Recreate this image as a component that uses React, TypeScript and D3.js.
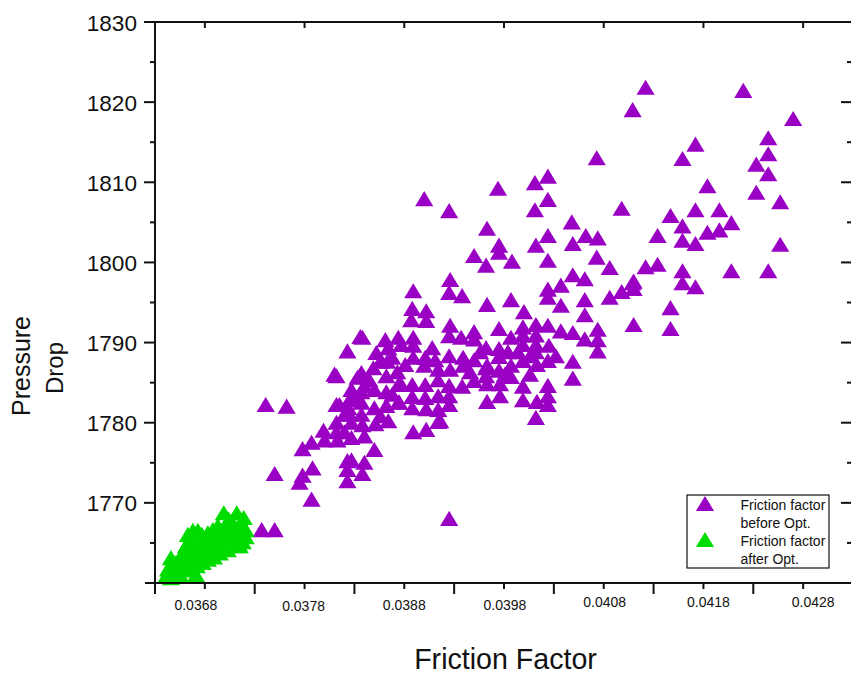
import React from "react";
import * as d3 from "d3";

const beforeFriction = [
  0.04122,0.0422,0.04109,0.0427,0.04245,0.04172,0.04245,0.04159,0.04073,0.04233,0.04245,0.04024,0.04011,0.04184,0.03974,0.04233,0.039,0.04024,0.04257,0.03925,
  0.04011,0.04098,0.04172,0.04196,0.04147,0.04159,0.04048,0.04208,0.03963,0.04134,0.04024,0.04062,0.04074,0.04196,0.04184,0.04159,0.03975,0.03975,0.04049,0.04012,
  0.04172,0.04257,0.0395,0.03962,0.03988,0.04024,0.04073,0.04086,0.04122,0.04134,0.04208,0.04245,0.04159,0.04049,0.04061,0.04109,0.04159,0.04172,0.03926,0.03889,
  0.03925,0.03938,0.03963,0.03987,0.04,0.04024,0.04024,0.04037,0.04037,0.03888,0.03902,0.04086,0.04098,0.0411,0.0411,0.04061,0.04061,0.0411,0.04147,0.04147,
  0.03926,0.03925,0.03937,0.0395,0.0395,0.03975,0.03987,0.03999,0.03999,0.03999,0.04012,0.04024,0.04012,0.04012,0.04037,0.04049,0.04061,0.04074,0.04074,0.04074,
  0.04025,0.04012,0.04024,0.04013,0.04049,0.04049,0.03962,0.03975,0.03975,0.03999,0.03987,0.03925,0.03939,0.0395,0.03939,0.03962,0.03975,0.03962,0.03987,0.03926,
  0.0395,0.03938,0.03925,0.03925,0.03963,0.03976,0.03999,0.04024,0.04024,0.03999,0.04013,0.04024,0.03963,0.03976,0.04012,0.03925,0.03916,0.03925,0.03887,0.03902,
  0.03889,0.03877,0.03889,0.03889,0.03901,0.039,0.03914,0.03963,0.03914,0.03901,0.03888,0.03877,0.03914,0.03901,0.03888,0.03914,0.03902,0.03888,0.03875,0.03914,
  0.03889,0.03902,0.03864,0.03741,0.03762,0.03838,0.03836,0.03823,0.03861,0.03874,0.03852,0.03864,0.03863,0.03837,0.03849,0.03812,0.0381,0.03862,0.0384,0.0385,
  0.03874,0.03827,0.03825,0.03812,0.03815,0.03837,0.0385,0.03862,0.03874,0.03824,0.03812,0.03799,0.03827,0.03838,0.03851,0.038,0.03813,0.03827,0.03787,0.03778,
  0.0385,0.0384,0.03823,0.03788,0.03827,0.03823,0.03838,0.03778,0.03775,0.0375,0.03823,0.03787,0.03737,0.0375,0.03837,0.03862,0.03837,0.03825,0.03812,
  0.0382,0.03831,0.03845,0.03856,0.03868,0.0382,0.0384,0.03833,0.03856,0.03873,0.03881,0.03868,0.03981,0.04006,0.03994,0.04006,0.03956,0.04032,0.03984,0.03946,0.03911,0.03908,
];
const beforePressure = [
  1821.8,1821.4,1819.0,1817.9,1815.5,1814.7,1813.5,1812.9,1813.0,1812.2,1811.0,1810.7,1809.9,1809.5,1809.2,1808.7,1807.9,1807.8,1807.5,1806.4,
  1806.5,1806.7,1806.5,1806.5,1805.8,1804.5,1805.0,1804.9,1804.2,1803.3,1803.3,1803.3,1803.0,1804.0,1803.7,1802.7,1802.1,1801.2,1802.3,1802.1,
  1802.3,1802.2,1800.8,1799.6,1800.1,1800.2,1800.6,1799.3,1799.4,1799.7,1798.9,1798.9,1798.9,1798.4,1797.9,1797.4,1797.4,1796.9,1797.8,1796.4,
  1796.2,1795.8,1794.7,1795.3,1793.8,1796.6,1795.6,1797.1,1794.6,1794.2,1793.9,1795.6,1796.3,1797.6,1796.7,1795.3,1793.4,1792.2,1794.3,1791.7,
  1792.1,1790.8,1790.6,1791.3,1790.4,1791.7,1790.6,1791.9,1790.9,1789.7,1792.2,1792.1,1790.9,1789.7,1791.4,1791.2,1790.4,1791.6,1790.3,1788.9,
  1789.6,1788.8,1787.7,1787.2,1787.6,1785.5,1789.3,1789.2,1788.2,1787.7,1787.1,1788.3,1788.1,1787.8,1787.1,1786.8,1786.5,1785.8,1785.7,1786.6,
  1785.2,1784.5,1784.6,1783.3,1784.8,1784.8,1784.5,1784.6,1783.3,1782.8,1782.6,1782.2,1782.6,1783.3,1780.6,1782.2,1780.2,1768.0,1792.8,1792.7,
  1790.6,1789.7,1789.6,1788.1,1788.1,1787.1,1786.6,1787.1,1785.3,1784.7,1784.7,1784.7,1783.3,1783.1,1783.2,1781.6,1781.7,1781.8,1782.5,1780.1,
  1778.8,1779.1,1780.2,1782.2,1782.0,1790.6,1790.7,1788.9,1790.3,1790.6,1788.7,1789.3,1787.6,1786.2,1786.8,1785.8,1786.0,1785.8,1784.6,1784.1,
  1784.7,1784.1,1782.8,1782.2,1782.2,1782.5,1781.8,1782.1,1782.5,1781.8,1780.0,1779.0,1780.0,1779.7,1779.8,1777.8,1777.8,1778.1,1777.5,1776.7,
  1776.6,1775.0,1775.2,1774.3,1775.3,1774.1,1773.6,1773.4,1772.5,1773.6,1772.7,1770.4,1766.6,1766.6,1781.0,1783.8,1783.8,1781.0,1778.8,
  1781.0,1783.2,1785.3,1780.8,1783.5,1778.8,1778.3,1785.6,1787.6,1786.3,1787.2,1788.1,1786.0,1786.0,1788.8,1788.3,1788.8,1788.3,1788.8,1786.3,1787.8,1789.3,
];
const afterFriction = [
  0.03646,0.03643,0.03642,0.03646,0.03651,0.03653,0.03647,0.03655,0.03659,0.03661,0.03665,0.03668,0.03677,0.03683,0.03688,0.03693,0.03699,0.03704,0.03712,0.03719,
  0.03715,0.03721,0.03721,0.03718,0.03711,0.03703,0.03695,0.03689,0.03683,0.03678,0.03671,0.03665,0.03659,0.03655,0.03663,0.03667,0.03672,0.03678,0.03684,0.03691,
  0.03697,0.03703,0.03708,0.03713,0.03707,0.037,0.03693,0.03686,0.03679,0.03672,0.03667,0.03674,0.03681,0.03689,0.03695,0.03701,0.03707,0.0371,0.03716,0.03672,
  0.03665,0.03658,0.03651,0.03663,0.03673,0.0366,0.03645,0.03675,0.03715,
];
const afterPressure = [
  1763.1,1761.7,1761.0,1760.6,1761.4,1762.1,1762.2,1763.1,1763.9,1764.6,1765.4,1766.5,1766.0,1766.2,1766.6,1767.1,1768.7,1767.9,1768.7,1768.1,
  1767.2,1766.6,1765.7,1765.1,1764.6,1764.1,1763.7,1763.2,1762.9,1762.5,1761.0,1761.6,1761.6,1761.0,1762.9,1763.5,1764.1,1764.7,1765.0,1765.4,
  1766.0,1766.4,1766.9,1766.2,1765.4,1764.7,1764.4,1763.9,1763.6,1763.1,1764.4,1765.4,1765.6,1766.0,1766.6,1767.1,1767.6,1765.7,1765.9,1762.1,
  1762.5,1762.5,1762.5,1766.0,1766.5,1762.9,1761.6,1763.4,1764.6,
];
const xLabels = ["0.0368", "0.0378", "0.0388", "0.0398", "0.0408", "0.0418", "0.0428"];
const yLabels = [1770, 1780, 1790, 1800, 1810, 1820, 1830];
const legendLines = ["Friction factor", "before Opt.", "Friction factor", "after Opt."];

const W = 851, H = 678;
const FONT = "'Liberation Sans', Arial, sans-serif";
const PURPLE = "#9A00C4";
const GREEN = "#00DC00";
const AXIS = "#111";

const x = d3.scaleLinear().domain([0.0363, 0.0433]).range([155, 853]);
const y = d3.scaleLinear().domain([1760, 1830]).range([583, 22]);

const triangleShape = {
  draw(ctx: any, size: number) {
    const h = Math.sqrt(size);
    ctx.moveTo(0, -h * 0.55);
    ctx.lineTo(h * 0.62, h * 0.48);
    ctx.lineTo(-h * 0.62, h * 0.48);
    ctx.closePath();
  },
};
const marker = d3.symbol().type(triangleShape as any).size(215)() as string;

const labelDx = [-9, -1, 0, 1, 1, 5, 10];
const labelCy = [605, 606, 605, 605, 602, 602, 601.7];

export default function App() {
  const xMajor = d3.range(0, 7).map((i) => 0.0363 + i * 0.001);
  const xMinor = xLabels.map(Number);
  const yMinor = d3.range(1765, 1830, 10);
  return (
    <svg width={W} height={H} style={{ position: "absolute", left: 0, top: 0, background: "#fff" }} fontFamily={FONT}>
      {beforeFriction.map((f, i) => (
        <path key={i} d={marker} fill={PURPLE} transform={`translate(${x(f)},${y(beforePressure[i])})`} />
      ))}
      {afterFriction.map((f, i) => (
        <path key={i} d={marker} fill={GREEN} transform={`translate(${x(f)},${y(afterPressure[i])})`} />
      ))}

      <g stroke={AXIS} strokeWidth={2} fill="none">
        <line x1={145} x2={853} y1={y(1830)} y2={y(1830)} />
        <line x1={145} x2={853} y1={y(1760)} y2={y(1760)} />
        <line x1={x(0.0363)} x2={x(0.0363)} y1={22} y2={594} />
        <line x1={853} x2={853} y1={22} y2={594} />
        {xMajor.map((v) => (
          <line key={v} x1={x(v)} x2={x(v)} y1={583} y2={594} />
        ))}
        {xMinor.map((v) => (
          <g key={v}>
            <line x1={x(v)} x2={x(v)} y1={583} y2={589} />
            <line x1={x(v)} x2={x(v)} y1={22} y2={28} />
          </g>
        ))}
        {yLabels.map((v) => (
          <g key={v}>
            <line x1={144} x2={155} y1={y(v)} y2={y(v)} />
            <line x1={841} x2={853} y1={y(v)} y2={y(v)} />
          </g>
        ))}
        {yMinor.map((v) => (
          <g key={v}>
            <line x1={150} x2={155} y1={y(v)} y2={y(v)} />
            <line x1={847} x2={853} y1={y(v)} y2={y(v)} />
          </g>
        ))}
      </g>

      {yLabels.map((v) => (
        <text key={v} x={137} y={y(v)} dy="0.38em" textAnchor="end" fontSize={22.6} fill="#111">{v}</text>
      ))}
      {xLabels.map((l, i) => (
        <text key={l} x={x(Number(l)) + labelDx[i]} y={labelCy[i]} dy="0.36em" textAnchor="middle" fontSize={14} fill="#111">{l}</text>
      ))}

      <text x={505.5} y={669} textAnchor="middle" fontSize={28.6} fill="#111">Friction Factor</text>
      <text transform="translate(30,366) rotate(-90)" textAnchor="middle" fontSize={25} fill="#111">Pressure</text>
      <text transform="translate(63,368) rotate(-90)" textAnchor="middle" fontSize={24} fill="#111">Drop</text>

      <rect x={687} y={495} width={142} height={73} fill="#fff" stroke="#111" strokeWidth={1.2} />
      <path d={marker} fill={PURPLE} transform="translate(705,504)" />
      <path d={marker} fill={GREEN} transform="translate(705,540)" />
      {legendLines.map((l, i) => (
        <text key={i} x={740.5} y={510 + i * 18} fontSize={14} fill="#111">{l}</text>
      ))}
    </svg>
  );
}
